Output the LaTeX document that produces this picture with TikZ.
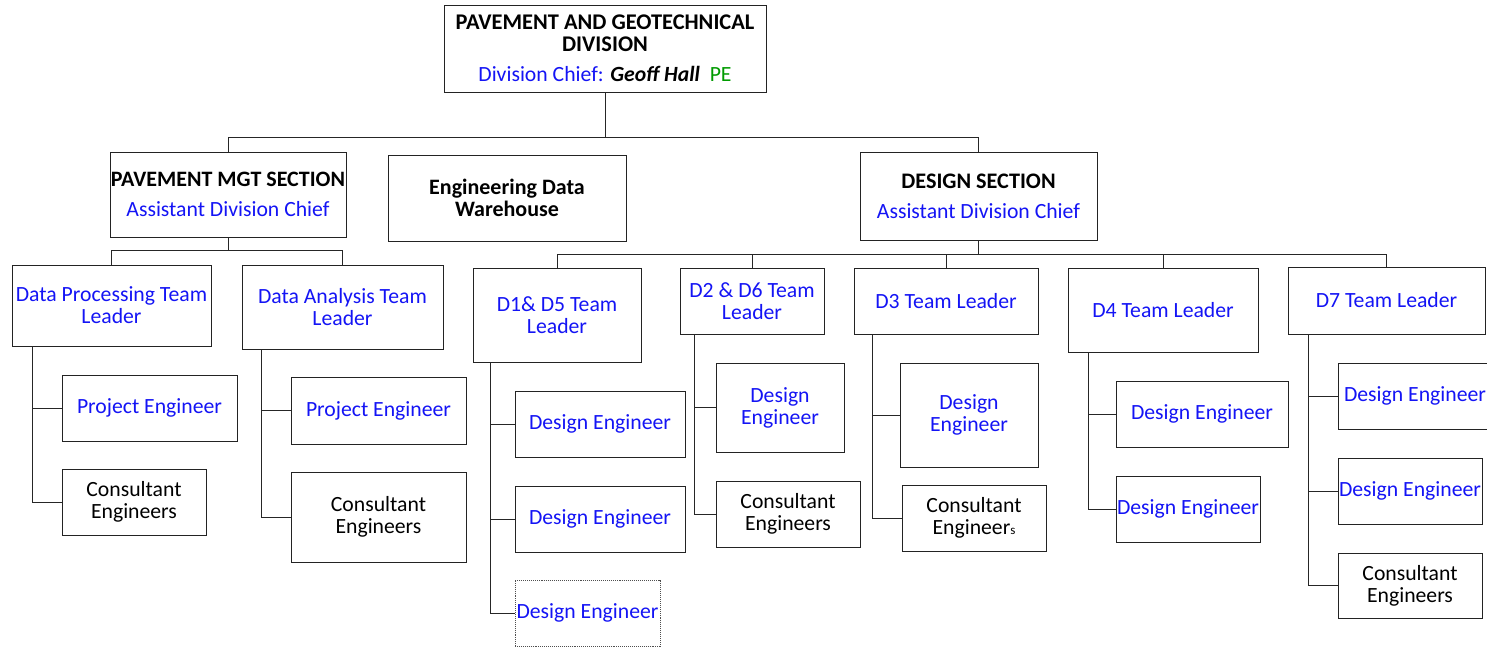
\documentclass[tikz,border=0pt]{standalone}
\usepackage{fontspec}
\setmainfont{Carlito}
\definecolor{myblue}{RGB}{20,20,245}
\definecolor{mygreen}{RGB}{0,155,0}
\definecolor{boxgray}{RGB}{35,35,35}
\newcommand\obox[7]{%
  \pgfmathsetmacro\obcx{(#2+#4)/2}%
  \pgfmathsetmacro\obcy{(#3+#5)/2}%
  \pgfmathsetmacro\obw{#4-#2}%
  \pgfmathsetmacro\obh{#5-#3}%
  \node[#6, minimum width=\obw pt, minimum height=\obh pt] (#1) at (\obcx,\obcy) {#7};}
\begin{document}
\begin{tikzpicture}[x=1pt,y=-1pt,
  box/.style={draw=boxgray, line width=0.95pt, fill=white, inner sep=0pt, align=center,
    font=\fontsize{21.7}{22}\selectfont},
  bbox/.style={box, text=myblue},
  dotbox/.style={bbox, densely dotted, draw=boxgray!80},
  hd/.style={font=\fontsize{22}{23}\selectfont\bfseries},
  conn/.style={draw=black!85, line width=0.95pt}]
\clip (0,0) rectangle (1487,648);
\fill[white] (0,0) rectangle (1487,648);
% top
\obox{top}{444}{5}{766}{92}{box}{{\fontsize{22.4}{23}\selectfont\textbf{PAVEMENT AND GEOTECHNICAL}}\\{\fontsize{22.4}{23}\selectfont\textbf{DIVISION}}\\[8pt]{\color{myblue}Division Chief: }\textbf{\textit{Geoff Hall}}\ \ {\color{mygreen}PE}}
% sections
\obox{pm}{110}{152}{346}{237}{box}{{\fontsize{22}{23}\selectfont\textbf{PAVEMENT MGT SECTION}}\\[8pt]{\color{myblue}Assistant Division Chief}}
\obox{edw}{388}{155}{626}{241}{box}{{\fontsize{22}{22}\selectfont\textbf{Engineering Data}}\\{\fontsize{22}{22}\selectfont\textbf{Warehouse}}}
\obox{ds}{860}{152}{1097}{240}{box}{{\fontsize{22.2}{23}\selectfont\textbf{DESIGN SECTION}}\\[8pt]{\color{myblue}Assistant Division Chief}}
% pavement teams
\obox{dp}{12}{265}{211}{346}{bbox}{Data Processing Team\\Leader}
\obox{da}{242}{265}{443}{349}{bbox}{Data Analysis Team\\Leader}
\obox{dpa}{62}{375}{237}{441}{bbox}{Project Engineer}
\obox{dpb}{62}{469}{206}{535}{box}{Consultant\\Engineers}
\obox{daa}{291}{377}{466}{444}{bbox}{Project Engineer}
\obox{dab}{291}{472}{466}{562}{box}{Consultant\\Engineers}
% design teams
\obox{d15}{473}{268}{641}{362}{bbox}{D1\& D5 Team\\Leader}
\obox{d26}{680}{268}{824}{334}{bbox}{D2 \& D6 Team\\Leader}
\obox{d3}{854}{268}{1038}{334}{bbox}{D3 Team Leader}
\obox{d4}{1068}{268}{1258}{352}{bbox}{D4 Team Leader}
\obox{d7}{1288}{267}{1485}{334}{bbox}{D7 Team Leader}
% D1 D5 children
\obox{d15a}{515}{391}{685}{457}{bbox}{Design Engineer}
\obox{d15b}{515}{486}{685}{552}{bbox}{Design Engineer}
\obox{d15c}{515}{580}{660}{646}{dotbox}{Design Engineer}
% D2 D6 children
\obox{d26a}{716}{363}{844}{452}{bbox}{Design\\Engineer}
\obox{d26b}{716}{481}{860}{547}{box}{Consultant\\Engineers}
% D3 children
\obox{d3a}{900}{363}{1038}{467}{bbox}{Design\\Engineer}
\obox{d3b}{902}{485}{1046}{551}{box}{Consultant\\Engineer{\fontsize{13}{14}\selectfont s}}
% D4 children
\obox{d4a}{1116}{381}{1288}{447}{bbox}{Design Engineer}
\obox{d4b}{1116}{476}{1260}{542}{bbox}{Design Engineer}
% D7 children
\obox{d7a}{1338}{363}{1492}{429}{bbox}{Design Engineer}
\obox{d7b}{1338}{458}{1482}{524}{bbox}{Design Engineer}
\obox{d7c}{1338}{553}{1482}{618}{box}{Consultant\\Engineers}
% connectors
\draw[conn] (top.south) -- ++(0,45) coordinate (j1) -| (pm.north);
\draw[conn] (j1) -| (ds.north);
\draw[conn] (pm.south) -- ++(0,13) coordinate (j2) -| (dp.north);
\draw[conn] (j2) -| (da.north);
\draw[conn] (ds.south) -- ++(0,14) coordinate (j3);
\foreach \t in {d15,d26,d3,d4,d7} \draw[conn] (j3) -| (\t.north);
\draw[conn] ([xshift=21pt]dp.south west) |- (dpa.west);
\draw[conn] ([xshift=21pt]dp.south west) |- (dpb.west);
\draw[conn] ([xshift=20pt]da.south west) |- (daa.west);
\draw[conn] ([xshift=20pt]da.south west) |- (dab.west);
\draw[conn] ([xshift=18pt]d15.south west) |- (d15a.west);
\draw[conn] ([xshift=18pt]d15.south west) |- (d15b.west);
\draw[conn] ([xshift=18pt]d15.south west) |- (d15c.west);
\draw[conn] ([xshift=15pt]d26.south west) |- (d26a.west);
\draw[conn] ([xshift=15pt]d26.south west) |- (d26b.west);
\draw[conn] ([xshift=19pt]d3.south west) |- (d3a.west);
\draw[conn] ([xshift=19pt]d3.south west) |- (d3b.west);
\draw[conn] ([xshift=21pt]d4.south west) |- (d4a.west);
\draw[conn] ([xshift=21pt]d4.south west) |- (d4b.west);
\draw[conn] ([xshift=21pt]d7.south west) |- (d7a.west);
\draw[conn] ([xshift=21pt]d7.south west) |- (d7b.west);
\draw[conn] ([xshift=21pt]d7.south west) |- (d7c.west);
\end{tikzpicture}
\end{document}
